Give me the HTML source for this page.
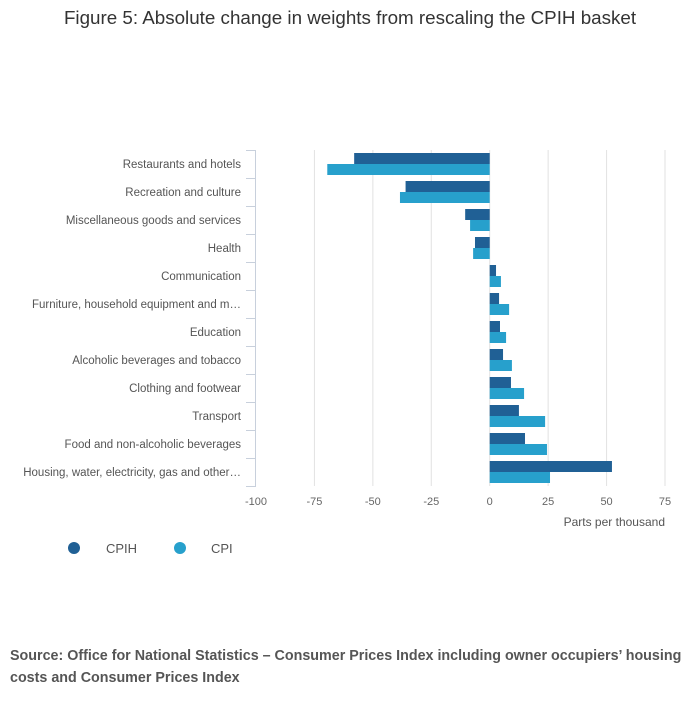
<!DOCTYPE html>
<html><head><meta charset="utf-8"><style>
body{margin:0;background:#fff;width:700px;height:707px;overflow:hidden;font-family:"Liberation Sans",sans-serif}
</style></head><body>
<svg width="700" height="707">
<text x="350" y="24" text-anchor="middle" font-size="18.8" fill="#333">Figure 5: Absolute change in weights from rescaling the CPIH basket</text>
<g id="grid"></g><g id="bars"></g><g id="yaxis"></g><g id="xaxis"></g>
<text x="665" y="526" text-anchor="end" font-size="12" fill="#555">Parts per thousand</text>
<g><circle cx="74" cy="548" r="6" fill="#206095"/><text x="106" y="553" font-size="13" fill="#555">CPIH</text></g>
<g><circle cx="180" cy="548" r="6" fill="#27a0cc"/><text x="211" y="553" font-size="13" fill="#555">CPI</text></g>
<text x="10" y="660" font-size="14.3" font-weight="bold" fill="#555"><tspan x="10">Source: Office for National Statistics – Consumer Prices Index including owner occupiers’ housing</tspan><tspan x="10" dy="22">costs and Consumer Prices Index</tspan></text>
</svg>
<script>
const categories=["Restaurants and hotels","Recreation and culture","Miscellaneous goods and services","Health","Communication","Furniture, household equipment and m…","Education","Alcoholic beverages and tobacco","Clothing and footwear","Transport","Food and non-alcoholic beverages","Housing, water, electricity, gas and other…"];
const cpih=[-58,-36,-10.5,-6.3,2.7,4,4.4,5.7,9.1,12.5,15.1,52.3];
const cpi=[-69.5,-38.4,-8.4,-7.1,4.8,8.3,7,9.5,14.7,23.7,24.5,25.8];
const ticks=[-100,-75,-50,-25,0,25,50,75];
const NS="http://www.w3.org/2000/svg";
const x=v=>256+(v+100)*(665-256)/175;
const top0=150,rowH=28;
function mk(t,a,p){const e=document.createElementNS(NS,t);for(const k in a)e.setAttribute(k,a[k]);p.appendChild(e);return e;}
const grid=document.getElementById('grid'),bars=document.getElementById('bars'),ya=document.getElementById('yaxis'),xa=document.getElementById('xaxis');
ticks.forEach(t=>{
 if(t>-100){const l=mk('line',{x1:x(t),x2:x(t),y1:top0,y2:top0+rowH*categories.length,stroke:'#e2e2e2'},grid);
 
 }
 const tx=mk('text',{x:x(t),y:505,'text-anchor':'middle','font-size':11,fill:'#666'},xa);tx.textContent=t;
 
 
});
mk('line',{x1:255.5,x2:255.5,y1:top0,y2:top0+rowH*categories.length,stroke:'#c8d0dc'},ya);
for(let i=0;i<=categories.length;i++){mk('line',{x1:246,x2:256,y1:top0+i*rowH+0.5,y2:top0+i*rowH+0.5,stroke:'#c8d0dc'},ya);}
categories.forEach((c,i)=>{
 const t=mk('text',{x:241,y:top0+i*rowH+18,'text-anchor':'end','font-size':11.5,fill:'#555'},ya);t.textContent=c;
 
 
 const b1=mk('rect',{x:Math.min(x(0),x(cpih[i])),y:top0+i*rowH+3,width:Math.abs(x(cpih[i])-x(0)),height:11,fill:'#206095'},bars);
 
 
 const b2=mk('rect',{x:Math.min(x(0),x(cpi[i])),y:top0+i*rowH+14,width:Math.abs(x(cpi[i])-x(0)),height:11,fill:'#27a0cc'},bars);
 
 
});
</script>
</body></html>
